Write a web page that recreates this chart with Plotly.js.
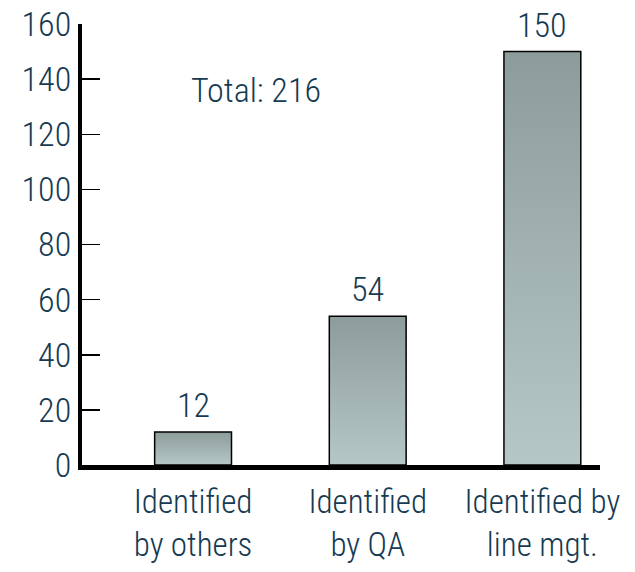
<!DOCTYPE html>
<html>
<head>
<meta charset="utf-8">
<script src="https://cdn.plot.ly/plotly-3.0.1.min.js"></script>
<style>
html,body{margin:0;padding:0;background:#fff;}
#chart{width:635px;height:572px;}
.main-svg text{font-stretch:75%;}
</style>
</head>
<body>
<svg width="0" height="0" style="position:absolute">
  <defs>
    <linearGradient id="barGrad" x1="0" y1="0" x2="0" y2="1">
      <stop offset="0" stop-color="#8c9c9a"/>
      <stop offset="1" stop-color="#b6c8c6"/>
    </linearGradient>
  </defs>
</svg>
<div id="chart"></div>
<script>
const categories = ["Identified<br>by others", "Identified<br>by QA", "Identified by<br>line mgt."];
const values = [12, 54, 150];
const totalLabel = "Total: 216";
const yTicks = [0, 20, 40, 60, 80, 100, 120, 140, 160];

const FONT = "'Roboto Condensed', Roboto, 'Open Sans', sans-serif";
const TXT = "#163a52";
const W = 360;
const xs = categories.map((c, i) => i);

const trace = {
  type: "bar",
  x: xs,
  y: values,
  width: 0.44,
  marker: {color: "#a2b2b0", line: {color: "#000", width: 1.5}},
  hoverinfo: "none"
};

const valueLabels = values.map((v, i) => ({
  x: xs[i], y: v, xref: "x", yref: "y",
  text: String(v), showarrow: false,
  yanchor: "bottom", yshift: 5,
  font: {family: FONT, size: 34, color: TXT, weight: W}
}));

const layout = {
  width: 635, height: 572,
  margin: {l: 82, r: 35, t: 24, b: 107},
  paper_bgcolor: "#fff", plot_bgcolor: "#fff",
  showlegend: false,
  font: {family: FONT, size: 33, color: TXT, weight: W},
  xaxis: {
    range: [-0.636, 2.33],
    tickvals: xs, ticktext: categories,
    ticks: "", showgrid: false, zeroline: false,
    showline: true, linecolor: "#000", linewidth: 5,
    tickfont: {family: FONT, size: 33, color: TXT, weight: W},
    ticklabelstandoff: 3,
    fixedrange: true
  },
  yaxis: {
    range: [0, 160],
    tickvals: yTicks,
    ticks: "inside", ticklen: 18, tickwidth: 1.5, tickcolor: "#000",
    showgrid: false, zeroline: false,
    showline: true, linecolor: "#000", linewidth: 4,
    tickfont: {family: FONT, size: 34, color: TXT, weight: W},
    fixedrange: true
  },
  annotations: [{
    x: 0.36, y: 136, xref: "x", yref: "y",
    text: totalLabel, showarrow: false,
    font: {family: FONT, size: 34, color: TXT, weight: W}
  }].concat(valueLabels),
  bargap: 0.5
};

Plotly.newPlot("chart", [trace], layout, {displayModeBar: false, staticPlot: true}).then(function(gd){
  gd.querySelectorAll(".barlayer .point path").forEach(function(p){
    p.style.fill = "url(#barGrad)";
  });
});
</script>
</body>
</html>
